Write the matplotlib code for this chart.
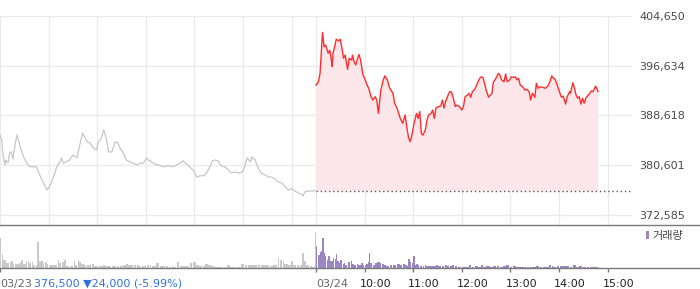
import matplotlib
matplotlib.use("Agg")
import matplotlib.pyplot as plt
import numpy as np
from matplotlib.transforms import ScaledTranslation, blended_transform_factory

# ----- data (minutes after 09:00 of each session) -----
prev_minutes = [0, 2, 4, 6, 7, 10, 12, 14, 16, 17, 19, 21, 25, 29, 33, 37, 41, 45, 49, 53,
                58, 60, 62, 66, 70, 74, 76, 78, 82, 86, 90, 95, 99, 102, 105, 108, 111, 115, 119, 121,
                125, 128, 131, 134, 138, 142, 145, 148, 152, 156, 160, 164, 169, 173, 177, 181, 183, 187, 191, 195,
                202, 208, 214, 218, 222, 226, 230, 234, 239, 243, 247, 251, 255, 259, 262, 265, 269, 273, 277, 281,
                285, 290, 295, 299, 302, 305, 309, 311, 315, 318, 322, 327, 331, 335, 339, 343, 348, 352, 356, 360,
                364, 368, 372, 374, 376, 380, 385, 389]
prev_prices = [385500, 384700, 381950, 380650, 381450, 380950, 382600, 382750, 381600, 382600,
               384200, 385500, 383550, 381950, 380950, 380350, 380350, 380350, 379050, 377900,
               376600, 376950, 377400, 378700, 380350, 381150, 381800, 380950, 381150, 381450,
               382250, 381800, 384200, 385800, 385000, 384350, 384200, 383400, 383050, 384200,
               385000, 386300, 385000, 382750, 382750, 384350, 384350, 383400, 382600, 381450,
               381150, 380950, 380650, 380950, 380950, 381800, 381450, 381150, 380800, 380650,
               380350, 380500, 380350, 380650, 380950, 381300, 380800, 380350, 379700, 378700,
               378900, 378900, 379350, 380350, 381300, 381450, 381300, 380500, 380350, 380000,
               379350, 379500, 379350, 379500, 380350, 381800, 381150, 381950, 381450, 380350,
               379350, 379050, 378700, 378700, 378400, 377900, 377750, 377100, 376600, 376800,
               376450, 376150, 375950, 375650, 376300, 376450, 376450, 376500]

today_minutes = [0, 3, 5, 6, 8, 10, 12, 15, 17, 19, 20, 21, 23, 25, 28, 30, 32, 34, 36, 39,
                 41, 44, 45, 47, 49, 51, 53, 55, 58, 60, 63, 65, 68, 70, 73, 75, 77, 80, 83, 85,
                 88, 91, 95, 97, 100, 104, 107, 110, 112, 114, 116, 118, 121, 124, 126, 128, 130, 132, 135, 137,
                 139, 142, 144, 146, 148, 151, 154, 156, 158, 160, 163, 165, 167, 169, 172, 174, 177, 180, 182, 184,
                 187, 189, 191, 193, 195, 197, 200, 202, 204, 206, 208, 210, 213, 215, 217, 219, 221, 223, 225, 227,
                 229, 232, 234, 236, 239, 241, 244, 246, 248, 250, 252, 255, 258, 260, 263, 265, 267, 270, 272, 274,
                 276, 280, 283, 286, 288, 291, 293, 295, 297, 300, 303, 305, 308, 310, 313, 314, 317, 319, 321, 323,
                 325, 327, 329, 331, 333, 336, 338, 340, 342, 345, 347, 348]
today_prices = [393500, 394050, 395400, 397550, 402000, 399700, 399950, 398650, 399150, 397550,
                396500, 398650, 399700, 400900, 400650, 400900, 399450, 397850, 398350, 396050,
                397850, 397550, 398350, 397300, 396750, 397650, 398450, 397550, 395150, 394600,
                393550, 393000, 391650, 391100, 391650, 391100, 388950, 392700, 394350, 395000,
                394350, 393000, 392200, 390600, 389800, 388150, 387350, 388700, 386800, 385200,
                384400, 385200, 387350, 388950, 388150, 389250, 385750, 385450, 386300, 387900,
                388700, 388950, 389500, 388150, 389800, 390050, 390150, 391100, 389800, 390850,
                391900, 392450, 392450, 391650, 390050, 390300, 390050, 389500, 390050, 391650,
                391900, 392200, 391550, 392450, 392700, 393150, 394050, 394600, 394850, 394750,
                393800, 392700, 391550, 391900, 392100, 394050, 394350, 394850, 395400, 395150,
                394350, 394050, 395300, 394050, 394350, 394850, 394750, 394850, 394350, 394600,
                393550, 393250, 392700, 392850, 392450, 391100, 392200, 391550, 393800, 393000,
                393250, 393150, 393000, 393350, 393800, 395000, 394600, 394500, 393800, 392600,
                391550, 391750, 390450, 391650, 392450, 392200, 393900, 393000, 391900, 391400,
                391650, 390450, 391400, 390600, 391400, 391900, 392200, 392600, 392450, 393350,
                392850, 392450]
prev_close = 376500

prev_vol_minutes = [0, 2, 4, 6, 8, 10, 12, 14, 16, 18, 20, 22, 24, 26, 29, 32, 34, 36, 39, 41,
                    44, 46, 48, 51, 53, 55, 58, 60, 62, 64, 66, 69, 71, 73, 76, 79, 82, 84, 86, 88,
                    91, 93, 96, 98, 100, 104, 107, 109, 111, 113, 116, 119, 122, 125, 127, 130, 132, 135, 138, 140,
                    144, 148, 152, 156, 158, 162, 165, 169, 172, 175, 179, 181, 185, 187, 190, 193, 197, 200, 205, 208,
                    212, 214, 218, 222, 226, 230, 234, 238, 242, 246, 250, 253, 257, 261, 264, 268, 272, 276, 280, 284,
                    288, 292, 298, 302, 306, 310, 314, 318, 322, 326, 333, 337, 343, 345, 349, 351, 356, 359, 362, 366,
                    370, 373, 375, 378, 382, 385, 389]
prev_volume = [30, 14, 8, 8, 5, 5, 6, 7, 4, 4, 4, 4, 5, 8, 4, 7, 7, 5, 6, 3,
               3, 26, 7, 7, 5, 6, 4, 3, 3, 3, 3, 3, 8, 5, 6, 8, 2, 2, 2, 2,
               7, 3, 8, 6, 4, 3, 3, 3, 4, 4, 2, 2, 2, 2, 3, 2, 2, 2, 2, 2,
               2, 2, 3, 4, 3, 3, 3, 3, 2, 2, 2, 3, 3, 2, 2, 5, 2, 2, 2, 1,
               2, 1, 6, 2, 2, 2, 5, 6, 3, 2, 2, 4, 3, 2, 1, 1, 1, 1, 3, 1,
               1, 1, 4, 3, 3, 3, 3, 3, 3, 3, 2, 3, 10, 8, 7, 4, 3, 7, 3, 3,
               3, 15, 7, 3, 2, 1, 36]

today_vol_minutes = [0, 2, 3, 5, 6, 8, 10, 11, 13, 15, 17, 19, 21, 23, 25, 26, 29, 30, 33, 35,
                     36, 39, 40, 43, 45, 47, 50, 52, 54, 56, 58, 60, 62, 64, 66, 67, 70, 73, 75, 77,
                     79, 81, 84, 87, 91, 95, 100, 104, 107, 110, 112, 114, 116, 118, 120, 122, 124, 126, 128, 132,
                     134, 136, 140, 145, 148, 151, 155, 159, 162, 165, 168, 171, 175, 180, 184, 189, 192, 196, 200, 204,
                     206, 210, 215, 219, 223, 227, 231, 235, 239, 243, 247, 251, 256, 260, 264, 268, 272, 276, 280, 284,
                     288, 291, 293, 297, 301, 305, 309, 313, 317, 321, 325, 329, 334, 338, 342, 346]
today_volume = [22, 18, 13, 16, 17, 30, 15, 12, 8, 12, 7, 7, 10, 9, 14, 7, 5, 8, 4, 5,
                3, 9, 6, 7, 4, 3, 4, 3, 3, 5, 3, 3, 4, 6, 15, 5, 3, 5, 6, 6,
                5, 4, 3, 2, 3, 3, 4, 3, 4, 3, 2, 9, 6, 5, 12, 3, 4, 3, 2, 2,
                3, 2, 2, 2, 3, 2, 2, 3, 2, 2, 3, 2, 1, 1, 1, 3, 1, 2, 1, 3,
                1, 2, 1, 2, 2, 1, 2, 3, 1, 2, 1, 1, 1, 1, 1, 1, 2, 1, 1, 1,
                3, 2, 1, 2, 2, 2, 2, 1, 3, 1, 2, 1, 1, 1, 1, 1]

price_ticks = [372585, 380601, 388618, 396634, 404650]
hour_ticks = [0, 60, 120, 180, 240, 300, 360]
time_labels = ["03/24", "10:00", "11:00", "12:00", "13:00", "14:00", "15:00"]
prev_date = "03/23"
prev_summary = "376,500 \u25bc24,000 (-5.99%)"

SESSION = 390  # 09:00-15:30 in minutes

plt.rcParams["font.family"] = ["DejaVu Sans", "Noto Sans CJK KR"]

fig = plt.figure(figsize=(7, 2.89), dpi=100)
W, H = 700, 289

# ----- price panel -----
ax = fig.add_axes([0, (H - 225) / H, 632 / W, (225 - 16) / H])
prev_x = np.array(prev_minutes)
today_x = np.array(today_minutes) + SESSION
ax.plot(prev_x, prev_prices, color="#c6c6cb", lw=0.9)
ax.fill_between(today_x, today_prices, prev_close, color="#fde6e9", lw=0)
ax.plot(today_x, today_prices, color="#ff2d2d", lw=1.0)
ax.hlines(prev_close, SESSION, 2 * SESSION, colors="#555555", linestyles=(0, (1, 2)), lw=1)

ax.set_xlim(0, 2 * SESSION)
ax.set_ylim(370970, 404650)
ax.set_xticks(hour_ticks + [t + SESSION for t in hour_ticks])
ax.set_yticks(price_ticks)
ax.set_yticklabels([f"{p:,}" for p in price_ticks])
ax.yaxis.tick_right()
ax.tick_params(axis="y", length=0, pad=5.5, labelsize=8, labelcolor="#4a4a4a")
ax.tick_params(axis="x", length=0, labelbottom=False)
ax.grid(True, color="#ebebeb", lw=1)
ax.set_axisbelow(True)
for s in ax.spines.values():
    s.set_visible(False)

# ----- volume panel -----
axv = fig.add_axes([0, (H - 268) / H, 1.0, 43 / H])
pv = np.array(prev_vol_minutes)
tv = np.array(today_vol_minutes) + SESSION
pw = np.diff(np.append(pv, SESSION)) * 0.85
tw = np.diff(np.append(tv, tv[-1] + 2)) * 0.85
axv.bar(pv, prev_volume, width=pw, color="#c9c9cc", align="edge", lw=0)
axv.bar(tv, today_volume, width=tw, color="#9a86c4", align="edge", lw=0, label="거래량")
axv.set_xlim(0, 2 * SESSION * W / 632)
axv.set_ylim(0, 43)
axv.set_yticks([])
tick_x = [0] + [t + SESSION for t in hour_ticks]
axv.set_xticks(tick_x)
axv.set_xticklabels([])
axv.tick_params(axis="x", length=3, width=1, color="#777777")
for side in ("left", "right"):
    axv.spines[side].set_visible(False)
for side in ("top", "bottom"):
    axv.spines[side].set_color("#7a7a7a")
    axv.spines[side].set_linewidth(1)

# bottom labels
tr = blended_transform_factory(axv.transData, axv.transAxes)
label_y = -0.37
axv.text(0, label_y, prev_date, transform=tr, ha="left", va="center", fontsize=8, color="#666666")
axv.text(0, label_y, prev_summary, ha="left", va="center", fontsize=8, color="#2f72d8",
         transform=tr + ScaledTranslation(34 / 100, 0, fig.dpi_scale_trans))
for i, (t, lab) in enumerate(zip(tick_x[1:], time_labels)):
    shift = 0 if i == 0 else -5 / 100
    axv.text(t, label_y, lab, ha="left", va="center", fontsize=8,
             color="#666666" if i == 0 else "#222222",
             transform=tr + ScaledTranslation(shift, 0, fig.dpi_scale_trans))

axv.legend(loc="upper right", bbox_to_anchor=(683 / W, (H - 231) / H),
           bbox_transform=fig.transFigure, frameon=False,
           handlelength=0.3, handleheight=0.7, handletextpad=0.3,
           borderpad=0, borderaxespad=0, prop={"family": ["Noto Sans CJK KR"], "size": 8},
           labelcolor="#444444")

fig.savefig("out.png", dpi=100)
